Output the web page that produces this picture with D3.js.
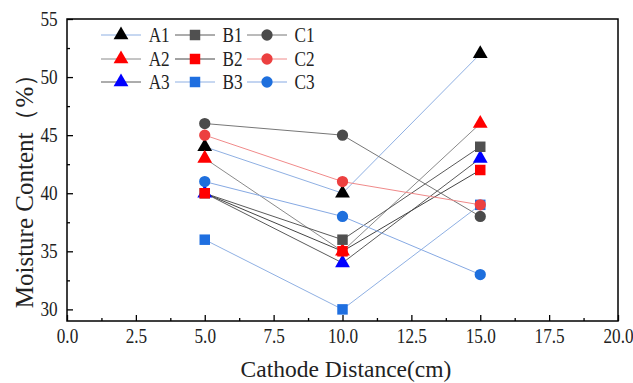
<!DOCTYPE html>
<html lang="en">
<head>
	<meta charset="UTF-8">
	<script src="https://cdn.jsdelivr.net/npm/d3@7"></script>
	<title>Moisture Content</title>
</head>
<style>
	body { margin: 0; background: #fff; }
	svg text { font-family: "Liberation Serif", "Times New Roman", "DejaVu Serif", serif !important; }
	/* the source figure's text is a little narrow */
	.narrow { transform-box: fill-box; transform-origin: center; transform: scaleX(0.86); }
</style>
<body>
	<svg id="chart" width="633" height="383"></svg>
	<script>
		// data
		const distances = [5, 10, 15];
		const seriesNames = ['A1', 'A2', 'A3', 'B1', 'B2', 'B3', 'C1', 'C2', 'C3'];
		const A1 = [44, 40, 52];
		const A2 = [43, 35, 46];
		const A3 = [40, 34, 43];
		const B1 = [40, 36, 44];
		const B2 = [40, 35, 42];
		const B3 = [36, 30, 39];
		const C1 = [46, 45, 38];
		const C2 = [45, 41, 39];
		const C3 = [41, 38, 33];
		const xTicks = [0, 2.5, 5, 7.5, 10, 12.5, 15, 17.5, 20];
		const yTicks = [30, 35, 40, 45, 50, 55];

		const values = { A1, A2, A3, B1, B2, B3, C1, C2, C3 };
		// marker shape, marker colour, line colour
		const styles = {
			A1: { shape: d3.symbolTriangle, fill: '#000000', line: '#8fb0e3' },
			A2: { shape: d3.symbolTriangle, fill: '#ff0000', line: '#8a8a8a' },
			A3: { shape: d3.symbolTriangle, fill: '#0000ff', line: '#5a5a5a' },
			B1: { shape: d3.symbolSquare, fill: '#505050', line: '#5a5a5a' },
			B2: { shape: d3.symbolSquare, fill: '#ff0000', line: '#444444' },
			B3: { shape: d3.symbolSquare, fill: '#1f6fe0', line: '#8fb0e3' },
			C1: { shape: d3.symbolCircle, fill: '#4a4a4a', line: '#777777' },
			C2: { shape: d3.symbolCircle, fill: '#ec4040', line: '#f08a8a' },
			C3: { shape: d3.symbolCircle, fill: '#1e6fdd', line: '#86a9e3' }
		};
		function symbolPath(shape) {
			const size = shape === d3.symbolTriangle ? 95 : shape === d3.symbolSquare ? 110 : 100;
			return d3.symbol().type(shape).size(size)();
		}

		const svg = d3.select('#chart');
		const margin = { top: 19, right: 15, bottom: 62, left: 67 };
		const width = 633, height = 383;

		const x = d3.scaleLinear().domain([0, 20]).range([margin.left, width - margin.right]);
		const y = d3.scaleLinear().domain([29, 55]).range([height - margin.bottom, margin.top]);

		// frame
		svg.append('rect')
			.attr('x', margin.left).attr('y', margin.top)
			.attr('width', x(20) - x(0)).attr('height', y(29) - y(55))
			.attr('fill', 'none').attr('stroke', '#000').attr('stroke-width', 1.5);

		// x axis: ticks point inward
		const xAxis = svg.append('g')
			.attr('transform', `translate(0,${y(29)})`)
			.call(d3.axisBottom(x).tickValues(xTicks).tickFormat(d3.format('.1f')).tickSizeInner(-6).tickSizeOuter(0).tickPadding(8));
		xAxis.selectAll('.tick line').attr('stroke-width', 1.3);
		svg.append('g')
			.attr('transform', `translate(0,${y(29)})`)
			.call(d3.axisBottom(x).tickValues(d3.range(1.25, 20, 2.5)).tickFormat('').tickSizeInner(-3).tickSizeOuter(0))
			.selectAll('.tick line').attr('stroke-width', 1.3);

		const yAxis = svg.append('g')
			.attr('transform', `translate(${x(0)},0)`)
			.call(d3.axisLeft(y).tickValues(yTicks).tickSizeInner(-6).tickSizeOuter(0).tickPadding(8));
		yAxis.selectAll('.tick line').attr('stroke-width', 1.3);
		svg.append('g')
			.attr('transform', `translate(${x(0)},0)`)
			.call(d3.axisLeft(y).tickValues(d3.range(32.5, 55, 5)).tickFormat('').tickSizeInner(-3).tickSizeOuter(0))
			.selectAll('.tick line').attr('stroke-width', 1.3);

		svg.selectAll('.domain').remove();
		svg.selectAll('g').attr('font-family', null);
		svg.selectAll('.tick text')
			.attr('class', 'narrow')
			.attr('font-size', 20)
			.attr('fill', '#222');

		// axis titles
		svg.append('text')
			.attr('x', 346).attr('y', 377)
			.attr('text-anchor', 'middle')
			.attr('font-size', 23.5).attr('fill', '#222')
			.text('Cathode Distance(cm)');
		svg.append('text')
			.attr('transform', 'translate(33,185) rotate(-90)')
			.attr('text-anchor', 'middle')
			.attr('font-size', 25).attr('fill', '#222')
			.text('Moisture Content（%）');

		// lines
		const line = d3.line().x((d, i) => x(distances[i])).y(d => y(d));
		svg.append('g').selectAll('path')
			.data(seriesNames)
			.join('path')
			.attr('d', n => line(values[n]))
			.attr('fill', 'none')
			.attr('stroke', n => styles[n].line)
			.attr('stroke-width', 1);

		// markers
		seriesNames.forEach(n => {
			svg.append('g').selectAll('path')
				.data(values[n])
				.join('path')
				.attr('transform', (d, i) => `translate(${x(distances[i])},${y(d)})`)
				.attr('d', symbolPath(styles[n].shape))
				.attr('fill', styles[n].fill);
		});

		// legend
		const legendCols = [101, 175, 247];
		const legendRows = [35, 59, 82];
		const legend = svg.append('g');
		seriesNames.forEach((n, k) => {
			const col = Math.floor(k / 3), row = k % 3;
			const lx = legendCols[col], ly = legendRows[row];
			const g = legend.append('g').attr('transform', `translate(${lx},${ly})`);
			g.append('line').attr('x1', 0).attr('x2', 40).attr('y1', 0).attr('y2', 0)
				.attr('stroke', styles[n].line).attr('stroke-width', 1);
			g.append('path').attr('transform', 'translate(20,0)')
				.attr('d', symbolPath(styles[n].shape)).attr('fill', styles[n].fill);
			g.append('text').attr('class', 'narrow').attr('x', 46).attr('y', 7)
				.attr('font-size', 20).attr('fill', '#222').text(n);
		});
	</script>
</body>
</html>
